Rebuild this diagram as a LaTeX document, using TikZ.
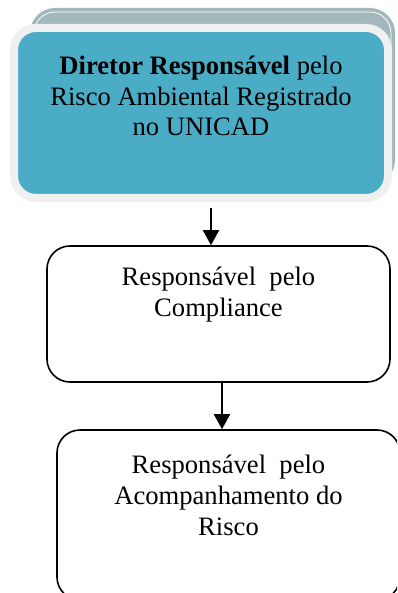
\documentclass[tikz,border=0pt]{standalone}
\usepackage{fontspec}
\setmainfont{Liberation Serif}
\usepackage{tikz}
\usepackage{xcolor}
\usetikzlibrary{arrows.meta, calc, positioning}
\definecolor{aqua}{HTML}{4BACC6}
\definecolor{rim}{HTML}{F0F0F0}
\definecolor{backing}{HTML}{A2B8BD}

\begin{document}
\begin{tikzpicture}[x=1pt, y=-1pt,
    backbox/.style={rectangle, rounded corners=25pt, fill=backing, inner sep=0pt, outer sep=0pt},
    headbox/.style={rectangle, rounded corners=22pt, fill=aqua, draw=rim, line width=8pt, inner sep=0pt, outer sep=0pt},
    stepbox/.style={rectangle, rounded corners=23pt, draw=black, line width=1.6pt, inner sep=0pt},
    txt/.style={align=center, inner sep=0pt, font=\fontsize{26.6pt}{30.6pt}\selectfont},
    flow/.style={-{Triangle[width=16pt,length=15pt]}, line width=1.8pt}]
                        \useasboundingbox (0,0) rectangle (397,593);
                        \clip (0,0) rectangle (397,593);

                        \node[backbox, minimum width=365pt, minimum height=177pt] (back) at (212.5,96.5) {};
                        \draw[white, line width=0.8pt, rounded corners=21pt]
                        ($(back.south west)+(4,-4)$) rectangle ($(back.north east)+(-4,4)$);

                        \node[headbox, minimum width=374pt, minimum height=170pt] (director) at (201,113) {};
                        \node[txt, below=28pt of director.north] (directortxt)
                        {\textbf{Diretor Responsável} pelo\\Risco Ambiental Registrado\\no UNICAD};

                        \node[stepbox, minimum width=343pt, minimum height=136pt] (compliance) at (218.5,314) {};
                        \node[txt, below=22pt of compliance.north] (compliancetxt)
                        {Responsável\ \ pelo\\Compliance};

                        \node[stepbox, minimum width=343pt, minimum height=170pt] (acomp) at (228.5,515) {};
                        \node[txt, below=26pt of acomp.north] (acomptxt)
                        {Responsável\ \ pelo\\Acompanhamento do\\Risco};

                        \coordinate (a) at ($(director.south)+(10,10)$);
                        \coordinate (b) at ($(compliance.south)+(3.5,0)$);
                        \draw[flow] (a) -- (a |- compliance.north);
                        \draw[flow] (b) -- (b |- acomp.north);
                    \end{tikzpicture}
\end{document}
